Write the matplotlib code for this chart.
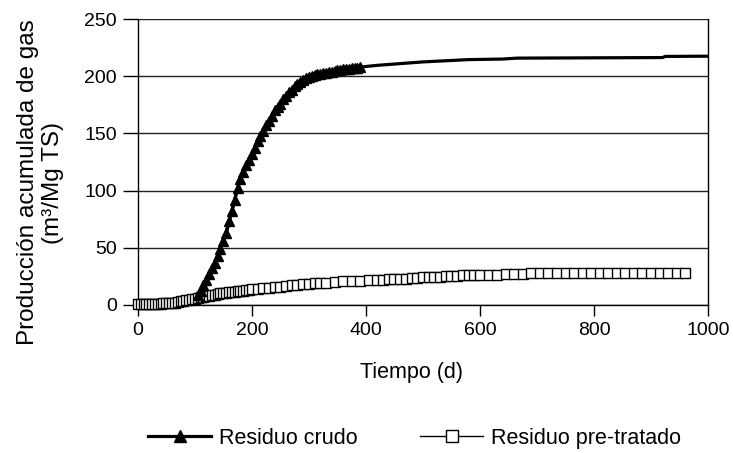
import matplotlib.pyplot as plt
from matplotlib.lines import Line2D

plt.rcParams['font.family'] = ['Liberation Sans', 'DejaVu Sans']

# Residuo crudo: puntos medidos (con marcador) y continuación (solo línea)
crudo_t = [0, 10, 20, 30, 40, 50, 60, 70, 80, 90, 100, 105, 110, 115, 120, 125,
           130, 135, 140, 145, 150, 155, 160, 165, 170, 175, 180, 185, 190, 195,
           200, 205, 210, 215, 220, 225, 230, 235, 240, 245, 250, 255, 260, 265,
           270, 275, 280, 285, 290, 295, 300, 305, 310, 315, 320, 325, 330, 335,
           340, 345, 350, 355, 360, 365, 370, 375, 380, 385, 390]
crudo_v = [0, 0.5, 1, 1, 1.5, 2, 2, 3, 3.5, 5, 7, 9, 12, 17, 22, 27,
           32, 37, 43, 49, 56, 63, 73, 82, 92, 102, 110, 116, 122, 127,
           132, 137, 143, 148, 152, 157, 161, 165, 170, 173, 176, 180, 183, 186,
           188, 191, 193, 195, 197, 198, 199, 200, 201, 201.5, 202, 202.5, 203, 203.5,
           204, 204.5, 205, 205.5, 206, 206, 206.5, 207, 207, 207.5, 208]
crudo_cola_t = [390, 420, 460, 500, 540, 580, 640, 665, 920, 925, 1000]
crudo_cola_v = [208, 209.5, 211, 212.5, 213.5, 214.5, 215, 215.8, 216.3, 217.3, 217.5]

# Residuo pre-tratado
pre_t = [0, 5, 10, 15, 20, 25, 30, 35, 40, 45, 50, 55, 60, 65, 70, 75, 80, 85, 90,
         95, 100, 105, 110, 115, 120, 125, 130, 135, 140, 145, 150, 155, 160, 165,
         170, 175, 180, 185, 190, 195, 200, 210, 220, 230, 240, 250, 260, 270, 280,
         290, 300, 310, 320, 330, 345, 360, 375, 390, 405, 420, 430, 440, 450, 460,
         470, 480, 490, 500, 510, 520, 530, 540, 550, 560, 570, 580, 590, 600, 615,
         630, 645, 660, 675, 690, 705, 720, 735, 750, 765, 780, 795, 810, 825, 840,
         855, 870, 885, 900, 915, 930, 945, 960]
pre_v = [1, 1, 1, 1, 1, 1, 1, 1, 1, 1.5, 1.5, 1.5, 2, 2, 2.5, 3, 3.5, 4, 4.5,
         5, 5.5, 6, 6.5, 7, 7.5, 8, 8.5, 9, 9.5, 10, 10, 10.5, 11, 11,
         11.5, 12, 12, 12.5, 13, 13, 13.5, 14, 14.5, 15, 15.5, 16, 16.5, 17, 17.5,
         18, 18.5, 19, 19, 19.5, 20, 20.5, 21, 21, 21.5, 22, 22, 22.5, 22.5, 23,
         23, 23.5, 23.5, 24, 24, 24.5, 24.5, 25, 25, 25.5, 26, 26, 26.5, 26.5, 26.5,
         26.5, 27, 27, 27, 27.5, 27.5, 27.5, 27.5, 27.5, 27.5, 27.5, 27.5, 28, 28, 28,
         28, 28, 28, 28, 28, 28, 28, 28]

fig = plt.figure(figsize=(7.33, 4.53), dpi=100)
ax = fig.add_axes([0.188, 0.327, 0.778, 0.631])

# crudo (línea por debajo de los cuadrados al principio)
ax.plot(crudo_cola_t, crudo_cola_v, color='black', lw=2.3, zorder=4)
ax.plot(crudo_t, crudo_v, color='black', lw=2.3, zorder=2)

# pre-tratado
ax.plot(pre_t, pre_v, color='black', lw=1, marker='s', ms=7.2,
        mfc='white', mec='black', mew=1, zorder=3, clip_on=False)

# marcadores del crudo en la subida
ax.plot(crudo_t[11:], crudo_v[11:], color='black', lw=2.3, marker='^', ms=7.5,
        mfc='black', mec='black', zorder=4)

ax.set_xlim(0, 1000)
ax.set_ylim(0, 250)
ax.set_xticks([0, 200, 400, 600, 800, 1000])
ax.set_yticks([0, 50, 100, 150, 200, 250])
ax.yaxis.grid(True, color='#222222', lw=1)
ax.set_axisbelow(True)
ax.tick_params(labelsize=14, direction='out', width=1, colors='black')
ax.tick_params(axis='y', length=11, pad=4)
ax.tick_params(axis='x', length=8, pad=4)
for s in ax.spines.values():
    s.set_linewidth(1)
ax.spines['top'].set_visible(False)

fig.text(0.562, 0.177, 'Tiempo (d)', fontsize=15.5, ha='center', va='center')
fig.text(0.055, 0.597, 'Producción acumulada de gas\n(m³/Mg TS)', fontsize=17.5,
         rotation=90, ha='center', va='center', multialignment='center',
         linespacing=1.2)

h1 = Line2D([], [], color='black', lw=2.3, marker='^', ms=8)
h2 = Line2D([], [], color='black', lw=1, marker='s', ms=8, mfc='white', mew=1)
fig.legend([h1, h2], ['Residuo crudo', 'Residuo pre-tratado'], loc='center',
           bbox_to_anchor=(0.566, 0.033), ncol=2, frameon=False, fontsize=15.5,
           handlelength=2.9, columnspacing=2.9, handletextpad=0.4)

fig.savefig('out.png', dpi=100)
